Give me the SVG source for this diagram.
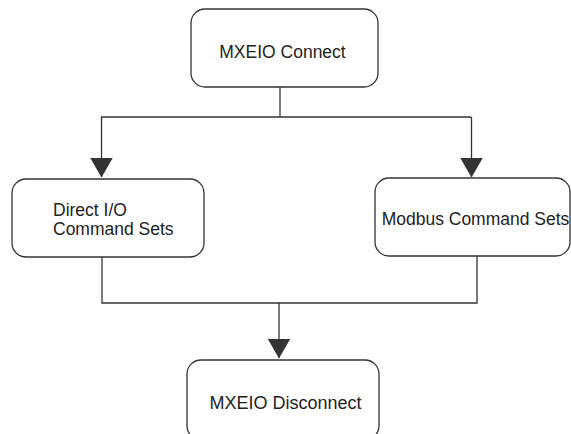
<svg xmlns="http://www.w3.org/2000/svg" width="571" height="434" viewBox="0 0 571 434">
<defs>
<style>
.box{fill:#fff;stroke:#333;stroke-width:1.3}
.ln{fill:none;stroke:#333;stroke-width:1.3}
.t{font-family:"Liberation Sans",Arial,Helvetica,sans-serif;font-size:17.5px;fill:#222}
</style>
<marker id="ah" markerUnits="userSpaceOnUse" markerWidth="20" markerHeight="23" viewBox="0 0 20 23" refX="19.5" refY="11.5" orient="auto">
<path d="M0,0 L20,11.5 L0,23 Z" fill="#333"/>
</marker>
</defs>
<rect width="571" height="434" fill="#fff"/>
<g id="connectors">
<path class="ln" d="M280,87 V117"/>
<path class="ln" d="M101,117 H471"/>
<path class="ln" d="M101.5,117 V177" marker-end="url(#ah)"/>
<path class="ln" d="M471.5,117 V177" marker-end="url(#ah)"/>
<path class="ln" d="M102,257 V303 H477 V256"/>
<path class="ln" d="M279,303 V358" marker-end="url(#ah)"/>
</g>
<g id="connect">
<rect class="box" x="191" y="9" width="187" height="78" rx="14"/>
<text class="t" x="282.5" y="58" text-anchor="middle">MXEIO Connect</text>
</g>
<g id="direct">
<rect class="box" x="12" y="179" width="192" height="78" rx="14"/>
<text class="t" x="53" y="216">Direct I/O</text>
<text class="t" x="53" y="234.5">Command Sets</text>
</g>
<g id="modbus">
<rect class="box" x="375" y="178" width="195" height="78" rx="14"/>
<text class="t" x="475.5" y="225" text-anchor="middle">Modbus Command Sets</text>
</g>
<g id="disconnect">
<rect class="box" x="187" y="360" width="192" height="80" rx="14"/>
<text class="t" x="285.5" y="409" text-anchor="middle" style="font-size:18px">MXEIO Disconnect</text>
</g>
</svg>
